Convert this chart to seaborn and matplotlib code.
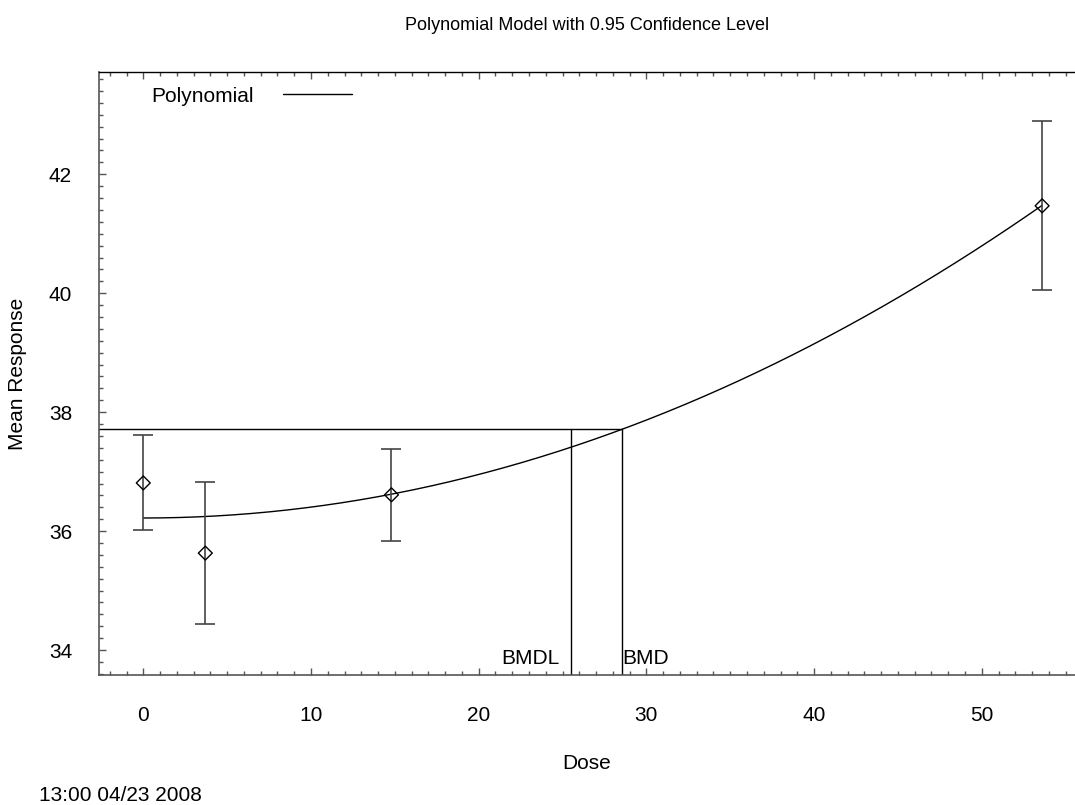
import numpy as np
import pandas as pd
import matplotlib
matplotlib.use("Agg")
import matplotlib.pyplot as plt
from matplotlib.lines import Line2D
import seaborn as sns

# ---- data ----
doses = [0.0, 3.7, 14.8, 53.6]
means = [36.81, 35.63, 36.61, 41.47]
ci_half = [0.80, 1.20, 0.77, 1.42]
poly_intercept = 36.22
poly_beta2 = 0.00183
bmr_level = 37.71
bmd = 28.55
bmdl = 25.52
x_ticks = [0, 10, 20, 30, 40, 50]
y_ticks = [34, 36, 38, 40, 42]

sns.set_style("ticks")
plt.rcParams["font.family"] = ["Liberation Sans", "DejaVu Sans"]
plt.rcParams["text.color"] = "black"
plt.rcParams["axes.labelcolor"] = "black"
plt.rcParams["xtick.labelcolor"] = "black"
plt.rcParams["ytick.labelcolor"] = "black"
FS = 15

fig = plt.figure(figsize=(10.75, 8.05), dpi=100)
ax = fig.add_axes([98.5 / 1075, 1 - 675 / 805, 1 - 98.5 / 1075, (675 - 72) / 805])

# model curve
xs = np.linspace(0, doses[-1], 300)
curve = pd.DataFrame({"Dose": xs, "Resp": poly_intercept + poly_beta2 * xs ** 2})
sns.lineplot(data=curve, x="Dose", y="Resp", ax=ax, color="black", lw=1.0,
             label="Polynomial", legend=False)

# error bars
ax.errorbar(doses, means, yerr=ci_half, fmt="none", ecolor="#444444",
            elinewidth=1.2, capsize=7.5, capthick=1.2, zorder=2)
pts = pd.DataFrame({"Dose": doses, "Mean": means})
sns.scatterplot(data=pts, x="Dose", y="Mean", ax=ax, marker="D", s=50,
                facecolor="none", edgecolor="black", linewidth=1.0, zorder=4)

xmin, xmax = -2.67, 55.56
ymin, ymax = 33.58, 43.72
# BMR / BMD / BMDL lines
ax.plot([xmin, bmd], [bmr_level, bmr_level], color="black", lw=1.0)
ax.plot([bmd, bmd], [ymin, bmr_level], color="black", lw=1.0)
ax.plot([bmdl, bmdl], [ymin, bmr_level], color="black", lw=1.0)
ax.text(bmdl - 0.7, 33.85, "BMDL", ha="right", va="center", fontsize=FS, color="black")
ax.text(bmd + 0.02, 33.85, "BMD", ha="left", va="center", fontsize=FS, color="black")

ax.set_xlim(xmin, xmax)
ax.set_ylim(ymin, ymax)
ax.set_xticks(x_ticks)
ax.set_yticks(y_ticks)
ax.set_xticks(np.arange(-2, 56, 1), minor=True)
ax.set_yticks(np.arange(33.6, 43.8, 0.2), minor=True)
ax.tick_params(axis="both", which="both", direction="in", labelsize=FS,
               color="#555555", labelcolor="black")
ax.tick_params(axis="x", which="both", top=True)
ax.tick_params(axis="both", which="major", length=5, width=1.0)
ax.tick_params(axis="both", which="minor", length=3, width=1.0)
ax.tick_params(axis="x", which="major", pad=22)
ax.tick_params(axis="y", which="major", pad=19)

for side in ["left", "bottom"]:
    ax.spines[side].set_color("#555555")
    ax.spines[side].set_linewidth(1.2)
ax.spines["top"].set_visible(True)
ax.spines["top"].set_color("black")
ax.spines["top"].set_linewidth(1.0)
ax.spines["right"].set_visible(False)

ax.set_xlabel("Dose", fontsize=FS, labelpad=21, color="black")
ax.set_ylabel("Mean Response", fontsize=FS, labelpad=16, color="black")

handle = Line2D([], [], color="black", lw=1.0)
ax.legend([handle], ["Polynomial"], loc="center left",
          bbox_to_anchor=((151.7 - 98.5) / 976.5, (675 - 96) / 603),
          frameon=False, markerfirst=False, fontsize=FS, handlelength=3.3,
          handletextpad=1.4, borderpad=0, borderaxespad=0, labelcolor="black")

fig.text(586.7 / 1075, 1 - 25 / 805, "Polynomial Model with 0.95 Confidence Level",
         ha="center", va="center", fontsize=13, color="black")
fig.text(39.3 / 1075, 1 - 795 / 805, "13:00 04/23 2008", ha="left", va="center",
         fontsize=FS, color="black")

fig.savefig("out.png", dpi=100)
